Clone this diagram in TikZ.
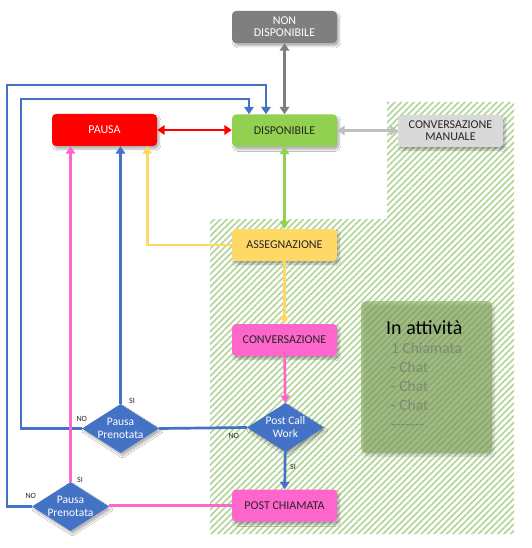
\documentclass[tikz,border=0pt]{standalone}
\usepackage{fontspec}
\setmainfont{Carlito}
\usetikzlibrary{arrows.meta,shapes.geometric,patterns.meta,shadows.blur,calc}

\definecolor{grigioscuro}{RGB}{127,127,127}
\definecolor{rosso}{RGB}{255,0,0}
\definecolor{verde}{RGB}{146,208,80}
\definecolor{grigiochiaro}{RGB}{217,217,217}
\definecolor{grigiofreccia}{RGB}{191,191,191}
\definecolor{giallo}{RGB}{255,217,102}
\definecolor{rosa}{RGB}{255,102,204}
\definecolor{blu}{RGB}{68,114,196}
\definecolor{tratteggio}{RGB}{176,212,150}
\definecolor{oliva}{RGB}{130,170,90}
\definecolor{testo}{RGB}{38,38,38}
\definecolor{testoelenco}{RGB}{125,138,112}

\tikzset{
  ombra/.style={blur shadow={shadow xshift=2pt,shadow yshift=-3pt,shadow blur steps=6,shadow opacity=30}},
  stato/.style={rectangle,rounded corners=4pt,minimum width=105pt,minimum height=32pt,inner sep=0pt,
    align=center,font=\fontsize{12}{12}\selectfont,text=testo,ombra},
  scelta/.style={diamond,fill=blu,text=white,minimum width=77pt,minimum height=49pt,aspect=1.57,
    inner sep=-3pt,align=center,font=\fontsize{11.5}{13}\selectfont,ombra},
  linea/.style={line width=2.7pt},
  freccia/.style={linea,-{Triangle[width=9.5pt,length=7.5pt]}},
  doppia/.style={linea,{Triangle[width=9.5pt,length=7.5pt]}-{Triangle[width=9.5pt,length=7.5pt]}},
  etichetta/.style={font=\fontsize{8}{8}\selectfont,text=testo,inner sep=1pt}
}

\begin{document}
\begin{tikzpicture}[x=1pt,y=-1pt]
\useasboundingbox (0,0) rectangle (531,548);
\fill[white] (0,0) rectangle (531,548);

% zona tratteggiata
\fill[pattern={Lines[angle=45,distance=4.5pt,line width=1.6pt]},pattern color=tratteggio]
  (387,102) -- (514,102) -- (514,534) -- (210,534) -- (210,219) -- (387,219) -- cycle;

% stati
\node[stato,fill=grigioscuro,text=white] (nondisp) at (284.5,27) {NON\\DISPONIBILE};
\node[stato,fill=rosso,text=white] (pausa) at (104.5,130) {PAUSA};
\node[stato,fill=verde] (disp) at (284.5,130.5) {DISPONIBILE};
\node[stato,fill=grigiochiaro] (convman) at (450.5,131) {CONVERSAZIONE\\MANUALE};
\node[stato,fill=giallo] (assegn) at (284.5,245) {ASSEGNAZIONE};
\node[stato,fill=rosa] (conv) at (284.5,340) {CONVERSAZIONE};
\node[stato,fill=rosa] (postch) at (284.5,505.5) {POST CHIAMATA};

% decisioni
\node[scelta] (pcw) at (285.5,427.5) {Post Call\\Work};
\node[scelta] (pp1) at (120.5,428.5) {Pausa\\Prenotata};
\node[scelta] (pp2) at (70.5,506.5) {Pausa\\Prenotata};

% riquadro attivita
\node[rectangle,rounded corners=5pt,minimum width=131pt,minimum height=152pt,fill=oliva,fill opacity=0.6,ombra] (attivita) at (426.5,377) {};
\node[anchor=north west,align=left,inner sep=0pt,text=testoelenco,font=\fontsize{15.5}{19}\selectfont] (elenco) at (386,320)
  {{\color{black}\fontsize{20}{22}\selectfont In attività}\\
   \hspace*{5pt}1 Chiamata\\ \hspace*{5pt}- Chat\\ \hspace*{5pt}- Chat\\ \hspace*{5pt}- Chat\\
   \hspace*{5pt}-{}-{}-{}-{}-{}-{}-};

\coordinate (gomitoA) at (21,99);
\coordinate (gomitoB) at (7,85);

% collegamenti
\draw[doppia,grigioscuro] (nondisp) -- (disp);
\draw[doppia,rosso,line width=2pt] (pausa.east) -- (pausa.east -| disp.west);
\draw[doppia,grigiofreccia] (disp.east) -- (disp.east -| convman.west);
\draw[doppia,verde] (disp) -- (assegn);
\draw[freccia,giallo] (assegn) -- (conv);
\draw[freccia,giallo] (assegn.west) -| ([xshift=-10pt]pausa.south east);
\draw[freccia,rosa] (conv) -- (pcw);
\draw[freccia,blu] (pcw) -- (postch);
\draw[linea,blu] (pcw.west) -- (pp1.east);
\draw[freccia,blu] (pp1.north) -- (pp1.north |- pausa.south);
\draw[freccia,blu] (pp1.west) -| (gomitoA) -| ([xshift=-35.5pt]disp.north);
\draw[freccia,blu] (pp2.west) -| (gomitoB) -| ([xshift=-18.5pt]disp.north);
\draw[linea,rosa] (postch.west) -- (postch.west -| pp2.east);
\draw[freccia,rosa] (pp2.north) -- (pp2.north |- pausa.south);

% etichette
\node[etichetta] (siA) at ($(pcw.south)+(7.5,15)$) {SI};
\node[etichetta] (noA) at ($(pcw.west)+(-13,8)$) {NO};
\node[etichetta] (siB) at ($(pp1.north)+(11.5,-3)$) {SI};
\node[etichetta] (noB) at ($(pp1.west)+(0,-9.5)$) {NO};
\node[etichetta] (siC) at ($(pp2.north)+(9.5,-2)$) {SI};
\node[etichetta] (noC) at ($(pp2.west)+(-1,-10.5)$) {NO};
\end{tikzpicture}
\end{document}
